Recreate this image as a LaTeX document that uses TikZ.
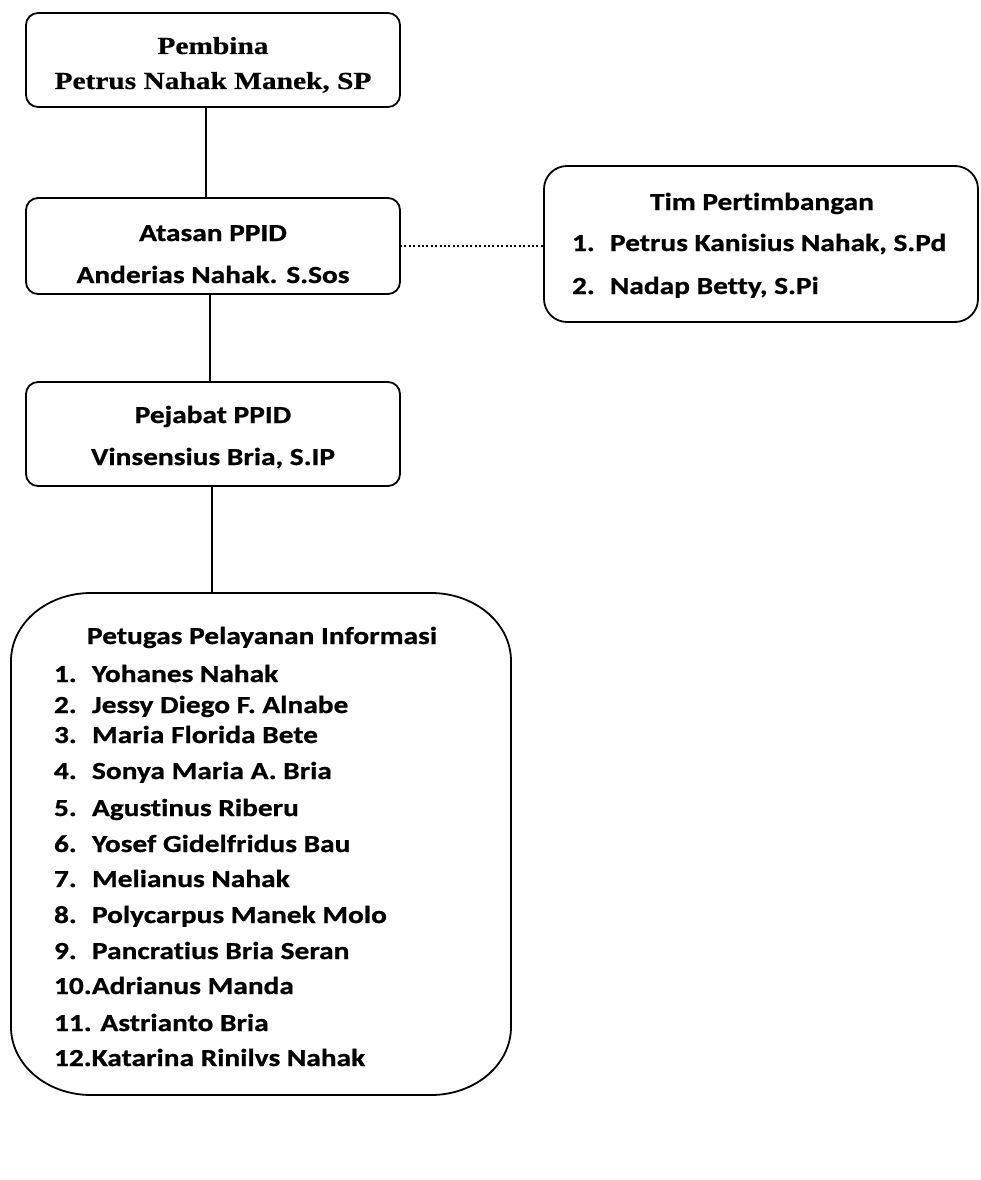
\documentclass[tikz,border=0pt]{standalone}
\usepackage{fontspec}
\usetikzlibrary{calc}
\newfontfamily\calfont[FakeStretch=1.2,Ligatures=NoCommon,BoldFeatures={FakeBold=0.8}]{Carlito}
\newfontfamily\timfont[FakeStretch=1.2,BoldFeatures={FakeBold=0.6}]{Liberation Serif}
\begin{document}
\begin{tikzpicture}[x=1pt,y=-1pt,
  orgbox/.style={draw=black, line width=1.8pt, fill=white, inner sep=0pt, outer sep=0pt},
  plainbox/.style={draw=none, inner sep=0pt, outer sep=0pt},
  txt/.style={inner sep=0pt, outer sep=0pt, font=\calfont\bfseries\fontsize{24.5}{29}\selectfont},
  txtt/.style={inner sep=0pt, outer sep=0pt, font=\timfont\bfseries\fontsize{24.5}{29}\selectfont},
  link/.style={draw=black, line width=1.4pt},
  dotlink/.style={draw=black, line width=2.2pt, dash pattern=on 2pt off 2.4pt}]
\useasboundingbox (0,0) rectangle (980,1180);
\fill[white] (0,0) rectangle (980,1180);

% boxes
\node[orgbox, rounded corners=12pt, minimum width=374pt, minimum height=94pt] (pembina) at (213,60) {};
\node[orgbox, rounded corners=12pt, minimum width=374pt, minimum height=96pt] (atasan) at (213,246) {};
\node[orgbox, rounded corners=12pt, minimum width=374pt, minimum height=104pt] (pejabat) at (213,434) {};
\node[orgbox, rounded corners=23pt, minimum width=434pt, minimum height=156pt] (tim) at (761,244) {};
\node[plainbox, minimum width=500pt, minimum height=502pt] (petugas) at (261,844) {};
\draw[line width=1.8pt, line join=round]
  ($(petugas.north west)+(80,0)$) -- ($(petugas.north east)+(-80,0)$)
  .. controls ($(petugas.north east)+(-35.8,0)$) and ($(petugas.north east)+(0,30.4)$) .. ($(petugas.north east)+(0,68)$)
  -- ($(petugas.south east)+(0,-68)$)
  .. controls ($(petugas.south east)+(0,-30.4)$) and ($(petugas.south east)+(-35.8,0)$) .. ($(petugas.south east)+(-80,0)$)
  -- ($(petugas.south west)+(80,0)$)
  .. controls ($(petugas.south west)+(35.8,0)$) and ($(petugas.south west)+(0,-30.4)$) .. ($(petugas.south west)+(0,-68)$)
  -- ($(petugas.north west)+(0,68)$)
  .. controls ($(petugas.north west)+(0,30.4)$) and ($(petugas.north west)+(35.8,0)$) .. ($(petugas.north west)+(80,0)$)
  -- cycle;

% connectors
\draw[link] (pembina.south -| 206,0) -- (atasan.north -| 206,0);
\draw[link] (atasan.south -| 210,0) -- (pejabat.north -| 210,0);
\draw[link] (pejabat.south -| 212,0) -- (petugas.north -| 212,0);
\draw[dotlink] (atasan.east) -- (atasan.east -| tim.west);

% Pembina
\node[txtt, anchor=base] (pembinaA) at (213,54) {Pembina};
\node[txtt, anchor=base] (pembinaB) at (213,89) {Petrus Nahak Manek, SP};

% Atasan
\node[txt, anchor=base] (atasanA) at (213,241) {Atasan PPID};
\node[txt, anchor=base] (atasanB) at (213,283) {Anderias Nahak. S.Sos};

% Pejabat
\node[txt, anchor=base] (pejabatA) at (213,423) {Pejabat PPID};
\node[txt, anchor=base] (pejabatB) at (213,465) {Vinsensius Bria, S.IP};

% Tim
\node[txt, anchor=base] (timA) at (762,210) {Tim Pertimbangan};
\node[txt, anchor=base west] (timN1) at (572,251) {1.};
\node[txt, anchor=base west] (timB) at (610,251) {Petrus Kanisius Nahak, S.Pd};
\node[txt, anchor=base west] (timN2) at (572,294) {2.};
\node[txt, anchor=base west] (timC) at (610,294) {Nadap Betty, S.Pi};

% Petugas
\node[txt, anchor=base] (petA) at (262,644) {Petugas Pelayanan Informasi};
\foreach \n/\y/\name in {1/682/Yohanes Nahak, 2/713/Jessy Diego F. Alnabe, 3/743/Maria Florida Bete,
  4/779/Sonya Maria A. Bria, 5/816/Agustinus Riberu, 6/852/Yosef Gidelfridus Bau,
  7/887/Melianus Nahak, 8/923/Polycarpus Manek Molo, 9/959/Pancratius Bria Seran}{
  \node[txt, anchor=base west] (petN\n) at (54,\y) {\n.};
  \node[txt, anchor=base west] (petI\n) at (92,\y) {\name};
}
\node[txt, anchor=base west] (petI10) at (54,994) {10.Adrianus Manda};
\node[txt, anchor=base west] (petI11) at (54,1031) {11. Astrianto Bria};
\node[txt, anchor=base west] (petI12) at (54,1066) {12.Katarina Rinilvs Nahak};
\end{tikzpicture}
\end{document}
